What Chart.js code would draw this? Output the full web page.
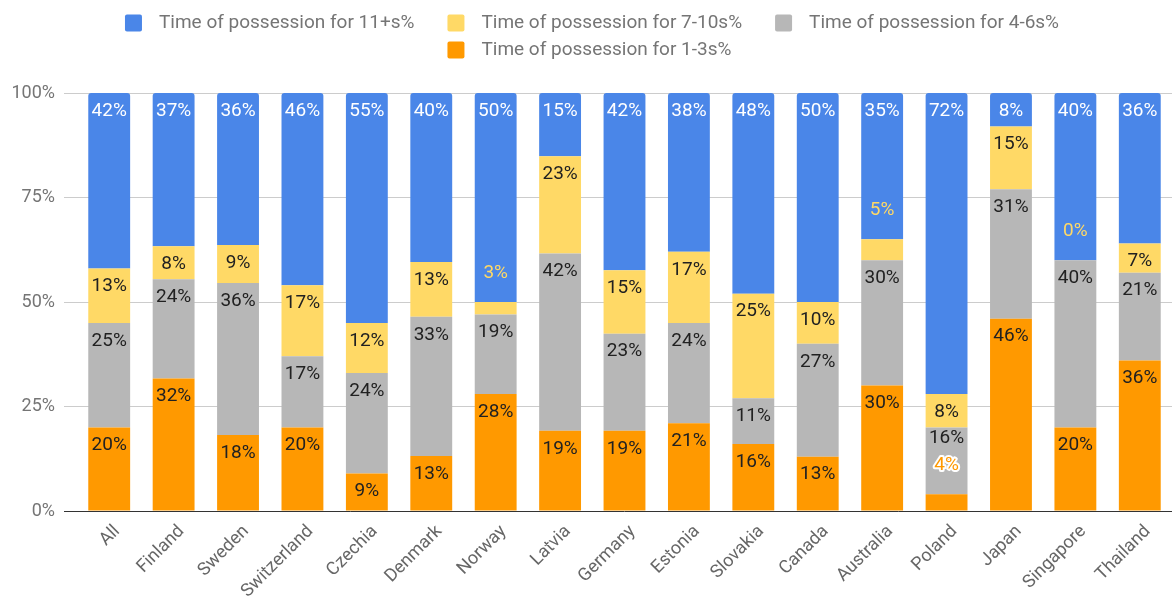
<!DOCTYPE html>
<html>
<head>
<meta charset="utf-8">
<script src="https://cdn.jsdelivr.net/npm/chart.js@4"></script>
<style>
  body { margin: 0; background: #fff; }
  #wrap { width: 1172px; height: 602px; }
</style>
</head>
<body>
<div id="wrap"><canvas id="barChart"></canvas></div>
<script>
const categories = ['All', 'Finland', 'Sweden', 'Switzerland', 'Czechia', 'Denmark', 'Norway', 'Latvia', 'Germany',
  'Estonia', 'Slovakia', 'Canada', 'Australia', 'Poland', 'Japan', 'Singapore', 'Thailand'];
// percent values as printed on the bars
const pct1to3 = [20, 32, 18, 20, 9, 13, 28, 19, 19, 21, 16, 13, 30, 4, 46, 20, 36];
const pct4to6 = [25, 24, 36, 17, 24, 33, 19, 42, 23, 24, 11, 27, 30, 16, 31, 40, 21];
const pct7to10 = [13, 8, 9, 17, 12, 13, 3, 23, 15, 17, 25, 10, 5, 8, 15, 0, 7];
const pct11plus = [42, 37, 36, 46, 55, 40, 50, 15, 42, 38, 48, 50, 35, 72, 8, 40, 36];
const seriesNames = ['Time of possession for 1-3s%', 'Time of possession for 4-6s%',
  'Time of possession for 7-10s%', 'Time of possession for 11+s%'];
const yTicks = [0, 25, 50, 75, 100];

const raw = [pct1to3, pct4to6, pct7to10, pct11plus];
const colors = ['#ff9900', '#b7b7b7', '#ffd966', '#4a86e8'];
const textColors = ['#212121', '#212121', '#212121', '#ffffff'];

// bars are drawn as shares of 100%
const totals = categories.map((c, j) => raw.reduce((s, arr) => s + arr[j], 0));
const shares = raw.map(arr => arr.map((v, j) => v / totals[j] * 100));

const barLabels = {
  id: 'barLabels',
  afterDatasetsDraw(chart) {
    const ctx = chart.ctx;
    ctx.save();
    ctx.font = '19px Roboto';
    ctx.textAlign = 'center';
    ctx.textBaseline = 'middle';
    for (let j = 0; j < categories.length; j++) {
      let belowY = null;
      for (let i = 0; i < raw.length; i++) {
        const bar = chart.getDatasetMeta(i).data[j];
        const top = bar.y, h = bar.base - bar.y;
        const txt = raw[i][j] + '%';
        if (h >= 24) {
          let y = top + 18;
          if (belowY !== null && Math.abs(y - belowY) < 24) y = belowY - 27;
          ctx.fillStyle = textColors[i];
          ctx.fillText(txt, bar.x, y);
          belowY = null;
        } else {
          const y = top - 29;
          if (i === 0) {
            ctx.lineWidth = 4;
            ctx.lineJoin = 'round';
            ctx.strokeStyle = '#ffffff';
            ctx.strokeText(txt, bar.x, y);
          }
          ctx.fillStyle = colors[i];
          ctx.fillText(txt, bar.x, y);
          belowY = y;
        }
      }
    }
    ctx.restore();
  }
};

// legend drawn by hand: 3 items on row one, last one under the second column
const topLegend = {
  id: 'topLegend',
  afterDraw(chart) {
    const ctx = chart.ctx;
    ctx.save();
    ctx.font = '19px Roboto';
    ctx.textBaseline = 'middle';
    const order = [3, 2, 1, 0];
    const box = 17, boxGap = 17, itemGap = 33;
    const widths = order.map(i => box + boxGap + ctx.measureText(seriesNames[i]).width);
    const row1 = widths[0] + widths[1] + widths[2] + 2 * itemGap;
    let x = chart.width / 2 + 6 - row1 / 2;
    const xs = [];
    for (let k = 0; k < 3; k++) { xs.push(x); x += widths[k] + itemGap; }
    xs.push(xs[1]);
    const ys = [23, 23, 23, 50];
    order.forEach((i, k) => {
      ctx.fillStyle = colors[i];
      ctx.beginPath();
      ctx.roundRect(xs[k], ys[k] - box / 2, box, box, 2);
      ctx.fill();
      ctx.fillStyle = '#757575';
      ctx.fillText(seriesNames[i], xs[k] + box + boxGap, ys[k]);
    });
    ctx.restore();
  }
};

const ctxBar = document.getElementById('barChart').getContext('2d');
const barChart = new Chart(ctxBar, {
  type: 'bar',
  data: {
    labels: categories,
    datasets: raw.map((arr, i) => ({
      label: seriesNames[i],
      data: shares[i],
      backgroundColor: colors[i],
      borderWidth: 0,
      borderRadius: i === 3 ? { topLeft: 3, topRight: 3 } : 0,
      borderSkipped: false,
      barPercentage: 0.65,
      categoryPercentage: 1.0,
    })),
  },
  options: {
    responsive: true,
    maintainAspectRatio: false,
    animation: false,
    layout: { padding: { top: 93, right: 0, left: 0, bottom: 0 } },
    plugins: {
      tooltip: { enabled: false },
      legend: { display: false },
    },
    scales: {
      x: {
        stacked: true,
        grid: { display: false },
        border: { display: false },
        ticks: {
          color: '#666666',
          font: { family: 'Roboto', size: 18 },
          minRotation: 45,
          maxRotation: 45,
          autoSkip: false,
          padding: 2,
          labelOffset: 8,
        },
        afterFit(scale) { scale.height = 91; },
      },
      y: {
        stacked: true,
        min: 0,
        max: 100,
        afterBuildTicks(scale) { scale.ticks = yTicks.map(v => ({ value: v })); },
        grid: {
          color: c => (c.tick && c.tick.value === 0 ? '#333333' : '#cccccc'),
          tickLength: 13,
        },
        border: { display: false },
        ticks: {
          color: '#757575',
          font: { family: 'Roboto', size: 18 },
          padding: 9,
          callback: v => v + '%',
        },
        afterFit(scale) { scale.width = 77; },
      },
    },
  },
  plugins: [barLabels, topLegend],
});
</script>
</body>
</html>
